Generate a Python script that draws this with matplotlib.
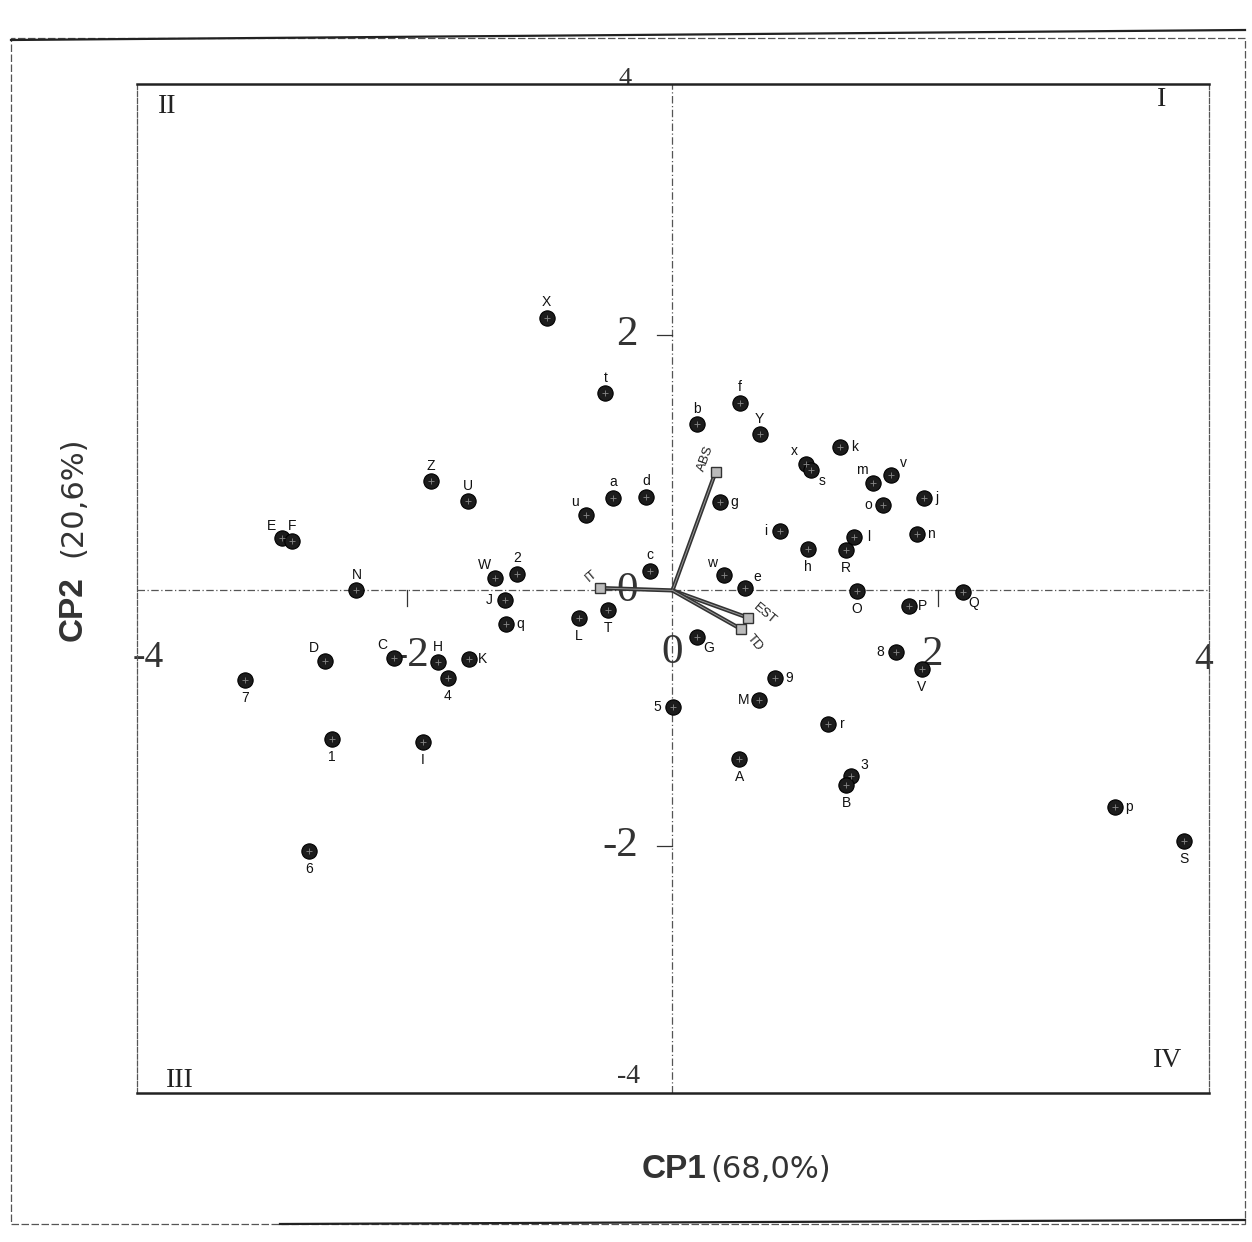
import matplotlib
matplotlib.use("Agg")
import matplotlib.pyplot as plt
from matplotlib.patches import Rectangle
from matplotlib.lines import Line2D

# ---------------- data (CP1, CP2 scores) ----------------
names = ["X", "Z", "U", "E", "F", "N", "W", "2", "J", "q",
         "D", "C", "H", "4", "K", "7", "1", "I", "6", "t",
         "b", "f", "Y", "x", "s", "k", "m", "v", "j", "o",
         "a", "d", "u", "g", "i", "n", "l", "h", "R", "c",
         "w", "e", "O", "P", "Q", "L", "T", "G", "8", "V",
         "9", "5", "M", "r", "A", "3", "B", "p", "S"]
cp1 = [-0.947, -1.818, -1.539, -2.939, -2.864, -2.381, -1.336, -1.172, -1.264, -1.255,
       -2.617, -2.102, -1.768, -1.695, -1.536, -3.218, -2.568, -1.880, -2.740, -0.505,
       0.186, 0.506, 0.657, 1.004, 1.041, 1.266, 1.510, 1.643, 1.892, 1.589,
       -0.445, -0.201, -0.654, 0.358, 0.814, 1.844, 1.371, 1.018, 1.306, -0.172,
       0.385, 0.547, 1.388, 1.783, 2.188, -0.706, -0.487, 0.188, 1.681, 1.879,
       0.773, 0.002, 0.649, 1.173, 0.505, 1.349, 1.310, 3.337, 3.852]
cp2 = [2.132, 0.853, 0.696, 0.407, 0.385, 0.000, 0.100, 0.131, -0.075, -0.261,
       -0.550, -0.527, -0.560, -0.681, -0.533, -0.698, -1.158, -1.183, -2.040, 1.542,
       1.301, 1.469, 1.224, 0.990, 0.945, 1.120, 0.842, 0.906, 0.719, 0.665,
       0.726, 0.733, 0.590, 0.691, 0.465, 0.438, 0.417, 0.325, 0.319, 0.154,
       0.117, 0.018, -0.008, -0.121, -0.012, -0.212, -0.152, -0.366, -0.483, -0.617,
       -0.686, -0.909, -0.860, -1.046, -1.318, -1.453, -1.518, -1.697, -1.956]
label_pos = ["N", "N", "N", "NW", "N", "N", "NW", "N", "W", "E",
             "NW", "NW", "N", "S", "E", "S", "S", "S", "S", "N",
             "N", "N", "N", "NW", "SE", "E", "NW", "NE", "E", "W",
             "N", "N", "NW", "E", "W", "E", "E", "S", "S", "N",
             "NW", "NE", "S", "E", "SE", "S", "S", "SE", "W", "S",
             "E", "W", "W", "E", "S", "NE", "S", "E", "S"]

# variable loading vectors
vec_names = ["ABS", "IT", "EST", "TD"]
vec_x = [0.325, -0.546, 0.567, 0.516]
vec_y = [0.926, 0.019, -0.213, -0.302]

# axis tick labels
x_ticks = [-4, -2, 0, 2, 4]
y_ticks = [-4, -2, 0, 2, 4]
quadrants = ["I", "II", "III", "IV"]

# ---------------- figure ----------------
W, H = 1252, 1242
fig = plt.figure(figsize=(W / 100, H / 100), dpi=100)
fig.patch.set_facecolor("white")

# outer frame of the scanned page
outer = Rectangle((11 / W, 1 - 1224 / H), 1234 / W, (1224 - 38) / H,
                  transform=fig.transFigure, fill=False, ec="#555", lw=0.9,
                  ls=(0, (6, 2)))
fig.patches.append(outer)
fig.add_artist(Line2D([11 / W, 1245 / W], [1 - 40 / H, 1 - 30 / H],
                      transform=fig.transFigure, color="#222", lw=1.6))
fig.add_artist(Line2D([280 / W, 1245 / W], [1 - 1224 / H, 1 - 1220 / H],
                      transform=fig.transFigure, color="#222", lw=1.6))

ax = fig.add_axes([137 / W, 1 - 1093 / H, 1072 / W, (1093 - 84) / H])
ax.set_xlim(-4.035, 4.043)
ax.set_ylim(-3.93, 3.96)
ax.set_xticks([])
ax.set_yticks([])
for side in ["top", "bottom"]:
    ax.spines[side].set_linewidth(1.8)
    ax.spines[side].set_color("#222")
for side in ["left", "right"]:
    ax.spines[side].set_linewidth(0.9)
    ax.spines[side].set_color("#555")
    ax.spines[side].set_linestyle((0, (4, 1.5)))

# axes through origin
ax.axhline(0, color="#555", lw=0.9, ls=(0, (6, 2, 1, 2)), zorder=1)
ax.axvline(0, color="#555", lw=0.9, ls=(0, (6, 2, 1, 2)), zorder=1)

# small ticks at +/-2
for t in [-2, 2]:
    ax.plot([t, t], [0, -0.12], color="#333", lw=0.9, zorder=1)
    ax.plot([-0.12, 0], [t, t], color="#333", lw=0.9, zorder=1)

serif = ["Liberation Serif", "DejaVu Serif"]
tick_color = "#333"
# y-axis tick labels (left of vertical axis)
for t in y_ticks:
    if t in (-2, 0, 2):
        ax.text(-0.26, t, str(t), ha="right", va="center", fontsize=31,
                family=serif, color=tick_color, zorder=2)
ax.text(-0.36, 4.0, "4", ha="center", va="center", fontsize=19,
        family=serif, color=tick_color, zorder=2, clip_on=False)
ax.text(-0.33, -3.80, "-4", ha="center", va="center", fontsize=20,
        family=serif, color=tick_color, zorder=2, clip_on=False)
# x-axis tick labels (below horizontal axis)
for t in x_ticks:
    if t == 0:
        ax.text(0.0, -0.49, "0", ha="center", va="center", fontsize=31,
                family=serif, color=tick_color, zorder=2)
    elif t == -2:
        ax.text(-1.83, -0.51, "-2", ha="right", va="center", fontsize=31,
                family=serif, color=tick_color, zorder=2)
    elif t == 2:
        ax.text(1.955, -0.50, "2", ha="center", va="center", fontsize=31,
                family=serif, color=tick_color, zorder=4)
    elif t == -4:
        ax.text(-3.95, -0.53, "-4", ha="center", va="center", fontsize=27,
                family=serif, color=tick_color, zorder=2, clip_on=False)
    elif t == 4:
        ax.text(4.0, -0.54, "4", ha="center", va="center", fontsize=27,
                family=serif, color=tick_color, zorder=2, clip_on=False)

# quadrant labels
quad_xy = {"I": (0.956, 0.985), "II": (0.028, 0.978),
           "III": (0.040, 0.012), "IV": (0.961, 0.032)}
for q in quadrants:
    ax.text(*quad_xy[q], q, transform=ax.transAxes, ha="center", va="center",
            fontsize=20, family=serif, color="#222")

# loading vectors
for vx, vy in zip(vec_x, vec_y):
    ax.plot([0, vx], [0, vy], color="#333", lw=3.0, solid_capstyle="butt",
            zorder=3)
    ax.plot([0, vx], [0, vy], color="#999", lw=0.7, zorder=3)
ax.plot(vec_x, vec_y, ls="none", marker="s", ms=7.5, mfc="#bbb", mec="#333",
        mew=1.0, zorder=4)
vec_off = {"ABS": ((-7, 10), 70), "IT": ((-6, 9), 40),
           "EST": ((12, 3), -40), "TD": ((10, -10), -50)}
for nm, vx, vy in zip(vec_names, vec_x, vec_y):
    off, rot = vec_off[nm]
    ax.annotate(nm, (vx, vy), xytext=off, textcoords="offset points",
                ha="center", va="center", rotation=rot, fontsize=9.5,
                family=["Liberation Sans", "DejaVu Sans"], color="#222",
                zorder=5)

# observation points
ax.plot(cp1, cp2, ls="none", marker="o", ms=11, mfc="#1c1c1c", mec="#000",
        mew=0.8, zorder=6)
ax.plot(cp1, cp2, ls="none", marker="+", ms=5, mec="#888", mew=0.6, zorder=7)

offs = {"N": (0, 11), "S": (0, -13), "E": (10, 0), "W": (-11, 0),
        "NE": (9, 8), "NW": (-8, 9), "SE": (8, -8), "SW": (-8, -8)}
for nm, x, y, p in zip(names, cp1, cp2, label_pos):
    ax.annotate(nm, (x, y), xytext=offs[p], textcoords="offset points",
                ha="center", va="center", fontsize=10,
                family=["Liberation Sans", "DejaVu Sans"], color="#111",
                zorder=8)

# axis titles
sans = ["Liberation Sans", "DejaVu Sans"]
wide = ["DejaVu Sans"]
fig.text(706 / W, 1 - 1170 / H, "CP1", ha="right", va="center", fontsize=24,
         fontweight="bold", family=sans, color="#333")
fig.text(710 / W, 1 - 1170 / H, "(68,0%)", ha="left", va="center",
         fontsize=22, family=wide, color="#333")
fig.text(73 / W, 1 - 641 / H, "CP2", ha="center", va="bottom", rotation=90,
         fontsize=24, fontweight="bold", family=sans, color="#333")
fig.text(73 / W, 1 - 557 / H, "(20,6%)", ha="center", va="bottom",
         rotation=90, fontsize=22, family=wide, color="#333")

fig.savefig("out.png", dpi=100, facecolor="white")
